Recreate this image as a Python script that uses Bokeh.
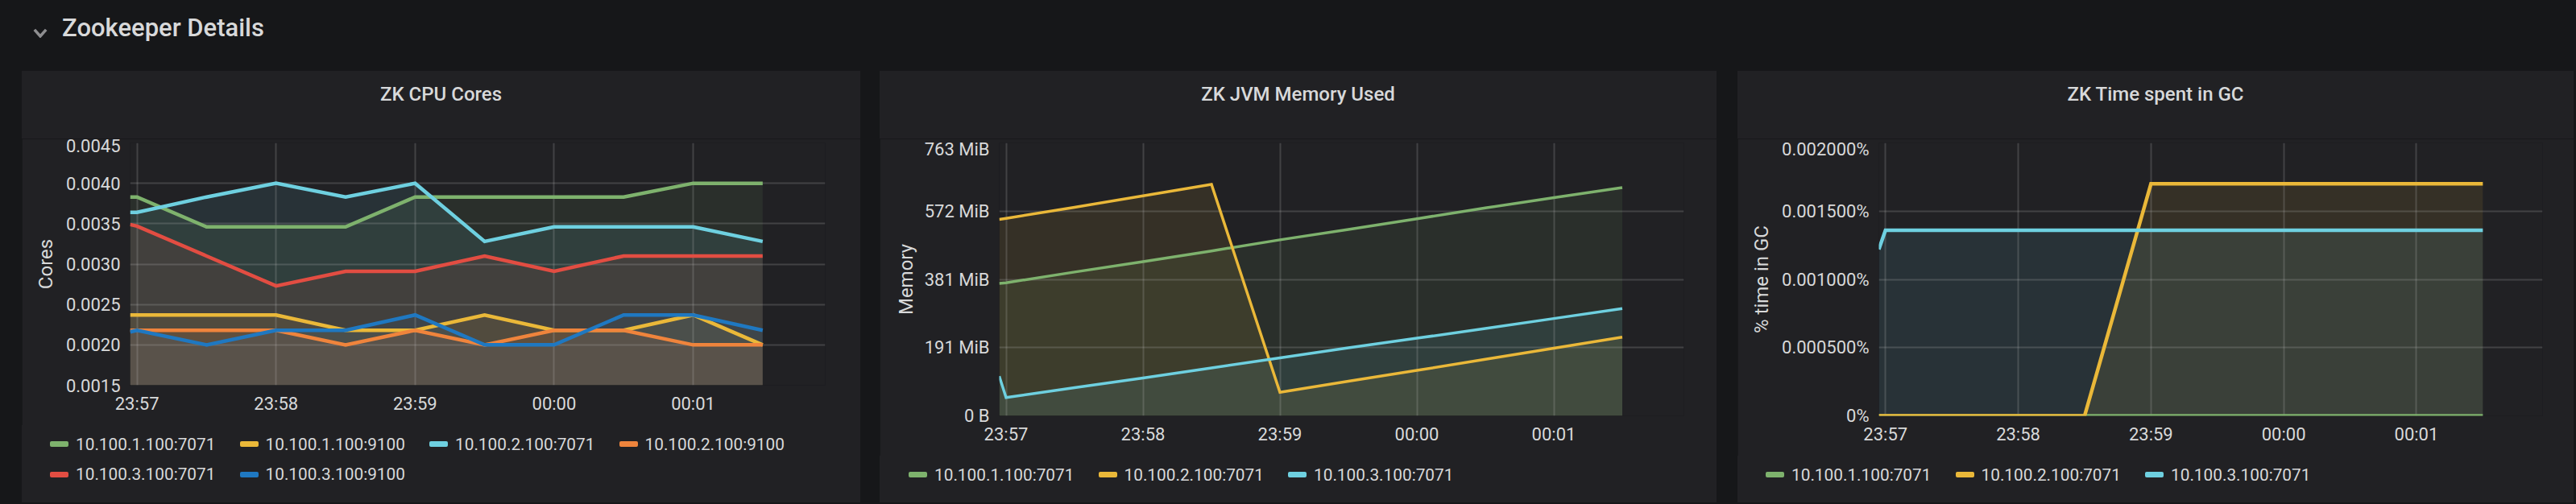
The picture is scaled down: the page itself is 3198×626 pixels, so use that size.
import pandas as pd
from bokeh.plotting import figure
from bokeh.models import (Range1d, FixedTicker, DatetimeTickFormatter, CustomJSTickFormatter,
                          Div, Spacer, ColumnDataSource)
from bokeh.layouts import row, column
from bokeh.embed import file_html
from bokeh.resources import INLINE

# ---------------- data ----------------
times = ["23:56:57", "23:57:00", "23:57:30", "23:58:00", "23:58:30", "23:59:00",
         "23:59:30", "00:00:00", "00:00:30", "00:01:00", "00:01:30"]
x_window = ["23:56:57", "00:01:57"]
x_tick_labels = ["23:57", "23:58", "23:59", "00:00", "00:01"]

series_names_cpu = ["10.100.1.100:7071", "10.100.1.100:9100", "10.100.2.100:7071",
                    "10.100.2.100:9100", "10.100.3.100:7071", "10.100.3.100:9100"]
cpu_1_7071 = [0.00383, 0.00383, 0.00346, 0.00346, 0.00346, 0.00383, 0.00383, 0.00383, 0.00383, 0.00400, 0.00400]
cpu_1_9100 = [0.00237, 0.00237, 0.00237, 0.00237, 0.00218, 0.00218, 0.00237, 0.00218, 0.00218, 0.00237, 0.00200]
cpu_2_7071 = [0.00364, 0.00364, 0.00383, 0.00400, 0.00383, 0.00400, 0.00328, 0.00346, 0.00346, 0.00346, 0.00328]
cpu_2_9100 = [0.00218, 0.00218, 0.00218, 0.00218, 0.00200, 0.00218, 0.00200, 0.00218, 0.00218, 0.00200, 0.00200]
cpu_3_7071 = [0.00349, 0.00347, 0.00310, 0.00273, 0.00291, 0.00291, 0.00310, 0.00291, 0.00310, 0.00310, 0.00310]
cpu_3_9100 = [0.00216, 0.00218, 0.00200, 0.00218, 0.00218, 0.00237, 0.00200, 0.00200, 0.00237, 0.00237, 0.00218]
cpu_ticks = [0.0015, 0.0020, 0.0025, 0.0030, 0.0035, 0.0040, 0.0045]
cpu_tick_labels = ["0.0015", "0.0020", "0.0025", "0.0030", "0.0035", "0.0040", "0.0045"]

series_names_jvm = ["10.100.1.100:7071", "10.100.2.100:7071", "10.100.3.100:7071"]
mem_1_7071_mib = [370, 372, 402, 431, 461, 492, 521, 551, 581, 610, 638]
mem_2_7071_mib = [549, 552, 583, 615, 647, 66, 97, 127, 158, 189, 220]
mem_3_7071_mib = [111, 51, 79, 106, 134, 162, 190, 217, 244, 272, 300]
mem_ticks = [0, 200000000, 400000000, 600000000, 800000000]
mem_tick_labels = ["0 B", "191 MiB", "381 MiB", "572 MiB", "763 MiB"]

gc_1_7071 = [0, 0, 0, 0, 0, 0, 0, 0, 0, 0, 0]
gc_2_7071 = [0, 0, 0, 0, 0, 0.0017, 0.0017, 0.0017, 0.0017, 0.0017, 0.0017]
gc_3_7071 = [0.00122, 0.00136, 0.00136, 0.00136, 0.00136, 0.00136, 0.00136, 0.00136, 0.00136, 0.00136, 0.00136]
gc_ticks = [0, 0.0005, 0.001, 0.0015, 0.002]
gc_tick_labels = ["0%", "0.000500%", "0.001000%", "0.001500%", "0.002000%"]

GREEN, YELLOW, CYAN, ORANGE, RED, BLUE = "#7EB26D", "#EAB839", "#6ED0E0", "#EF843C", "#E24D42", "#1F78C1"

# ---------------- style ----------------
PAGE_BG = "#161719"
PANEL_BG = "#212124"
TEXT = "#d8d9da"
FONT = "Roboto"
PAGE_W = 3198
HEADER_H = 88
PANEL_H = 536
BOTTOM_GAP = 2
TITLE_H = 84


def to_ms(hms):
    day = "2019-06-21 " if hms.startswith("00") else "2019-06-20 "
    t = pd.Timestamp(day + hms)
    return (t - pd.Timestamp("1970-01-01")) / pd.Timedelta(milliseconds=1)


xs = [to_ms(t) for t in times]
x_tick_ms = [to_ms(t + ":00") for t in x_tick_labels]
x0, x1 = to_ms(x_window[0]), to_ms(x_window[1])

hm = "%H:%M"
dt_fmt = DatetimeTickFormatter(microseconds=hm, milliseconds=hm, seconds=hm, minsec=hm,
                               minutes=hm, hourmin=hm, hours=hm, days=hm, months=hm, years=hm)


def make_panel(title, width, left, right, frame_h, y_lo, y_hi, ticks, tick_labels,
               y_label, label_standoff, series, lw, ncols, legend_x):
    # title (normal flow, padded down to the reference position)
    title_div = Div(
        text=(f'<div style="width:{width}px;height:{TITLE_H}px;box-sizing:border-box;'
              f'padding-top:17px;text-align:center;font:500 24px Roboto;line-height:1;'
              f'color:{TEXT};white-space:nowrap;">{title}</div>'),
        width=width, height=TITLE_H, margin=0, styles={"background-color": PANEL_BG})

    chart_h = 5 + frame_h + 50
    p = figure(width=width, height=chart_h, x_axis_type="datetime",
               x_range=Range1d(x0, x1), y_range=Range1d(y_lo, y_hi),
               output_backend="svg", toolbar_location=None,
               min_border_left=left, min_border_right=right,
               min_border_top=5, min_border_bottom=50,
               background_fill_color=PANEL_BG, border_fill_color=PANEL_BG,
               outline_line_color=None)

    for ax in (p.xaxis[0], p.yaxis[0]):
        ax.axis_line_color = None
        ax.major_tick_line_color = None
        ax.minor_tick_line_color = None
        ax.major_tick_out = 0
        ax.major_tick_in = 0
        ax.major_label_text_color = TEXT
        ax.major_label_text_font = FONT
        ax.major_label_standoff = 12

    p.xaxis.ticker = FixedTicker(ticks=x_tick_ms)
    p.xaxis.formatter = dt_fmt
    p.xaxis.major_label_text_font_size = "22px"
    p.xaxis.major_label_standoff = 10

    p.yaxis.ticker = FixedTicker(ticks=ticks)
    p.yaxis.formatter = CustomJSTickFormatter(
        args=dict(tv=ticks, tl=tick_labels),
        code="const i = tv.indexOf(tick); return i < 0 ? '' : tl[i];")
    p.yaxis.major_label_text_font_size = "22px"
    p.yaxis.axis_label = y_label
    p.yaxis.axis_label_text_font = FONT
    p.yaxis.axis_label_text_font_size = "24px"
    p.yaxis.axis_label_text_font_style = "normal"
    p.yaxis.axis_label_text_color = TEXT
    p.yaxis.axis_label_standoff = label_standoff

    for g in (p.xgrid[0], p.ygrid[0]):
        g.grid_line_color = "#c8c8c8"
        g.grid_line_alpha = 0.2
        g.grid_line_width = 2

    sources = []
    for name, color, vals in series:
        src = ColumnDataSource(dict(x=xs, y=vals))
        sources.append(src)
        p.varea(x="x", y1=y_lo, y2="y", source=src, fill_color=color,
                fill_alpha=0.1, level="image")
    for (name, color, vals), src in zip(series, sources):
        p.line(x="x", y="y", source=src, line_color=color, line_width=lw,
               line_join="miter")

    # legend strip (HTML), built from the series names / colours
    leg_h = PANEL_H - TITLE_H - chart_h
    parts = [f'<div style="position:relative;width:{width}px;height:{leg_h}px;">']
    for i, (name, color, vals) in enumerate(series):
        r, c = divmod(i, ncols)
        cx = legend_x + c * 235.5
        cy = 23.5 + r * 37.6
        parts.append(
            f'<div style="position:absolute;left:{cx}px;top:{cy - 3.5}px;width:23px;height:7px;'
            f'border-radius:2px;background:{color};"></div>'
            f'<div style="position:absolute;left:{cx + 32}px;top:{cy - 10}px;font:400 20.8px Roboto;'
            f'line-height:1;color:{TEXT};white-space:nowrap;">{name}</div>')
    parts.append('</div>')
    legend_div = Div(text="".join(parts), width=width, height=leg_h, margin=0,
                     styles={"background-color": PANEL_BG})
    return column(title_div, p, legend_div, spacing=0)


cpu_series = [(series_names_cpu[0], GREEN, cpu_1_7071), (series_names_cpu[1], YELLOW, cpu_1_9100),
              (series_names_cpu[2], CYAN, cpu_2_7071), (series_names_cpu[3], ORANGE, cpu_2_9100),
              (series_names_cpu[4], RED, cpu_3_7071), (series_names_cpu[5], BLUE, cpu_3_9100)]
mib = 1048576
mem_series = [(series_names_jvm[0], GREEN, [v * mib for v in mem_1_7071_mib]),
              (series_names_jvm[1], YELLOW, [v * mib for v in mem_2_7071_mib]),
              (series_names_jvm[2], CYAN, [v * mib for v in mem_3_7071_mib])]
gc_series = [(series_names_jvm[0], GREEN, gc_1_7071),
             (series_names_jvm[1], YELLOW, gc_2_7071),
             (series_names_jvm[2], CYAN, gc_3_7071)]

c1 = make_panel("ZK CPU Cores", 1041, 134, 44, 301, cpu_ticks[0], cpu_ticks[-1], cpu_ticks,
                cpu_tick_labels, "Cores", 8, cpu_series, 4.5, 4, 35)
c2 = make_panel("ZK JVM Memory Used", 1039, 148, 41, 339, mem_ticks[0], mem_ticks[-1], mem_ticks,
                mem_tick_labels, "Memory", 6, mem_series, 3.5, 3, 36)
c3 = make_panel("ZK Time spent in GC", 1038, 175, 39, 339, gc_ticks[0], gc_ticks[-1], gc_ticks,
                gc_tick_labels, "% time in GC", 8, gc_series, 4.5, 3, 35)

header_html = (
    f'<div style="position:relative;width:{PAGE_W}px;height:{HEADER_H}px;">'
    '<svg style="position:absolute;left:41px;top:35px" width="18" height="12">'
    '<polyline points="1.8,1.8 9,10 16.2,1.8" fill="none" stroke="#8e8e90" stroke-width="3.5"/></svg>'
    '<span style="position:absolute;left:77px;top:19px;font:500 31px Roboto;line-height:1;'
    'color:#d8d9da;white-space:nowrap;">Zookeeper Details</span></div>'
)
header = Div(text=header_html, width=PAGE_W, height=HEADER_H, margin=0,
             styles={"background-color": PAGE_BG})

panels = row(Spacer(width=27, height=PANEL_H), c1, Spacer(width=24, height=PANEL_H), c2,
             Spacer(width=26, height=PANEL_H), c3, Spacer(width=3, height=PANEL_H), spacing=0,
             styles={"background-color": PAGE_BG})
footer = Spacer(width=PAGE_W, height=BOTTOM_GAP)
root = column(header, panels, footer, spacing=0, styles={"background-color": PAGE_BG})

open("out.html", "w").write(file_html(root, INLINE))
